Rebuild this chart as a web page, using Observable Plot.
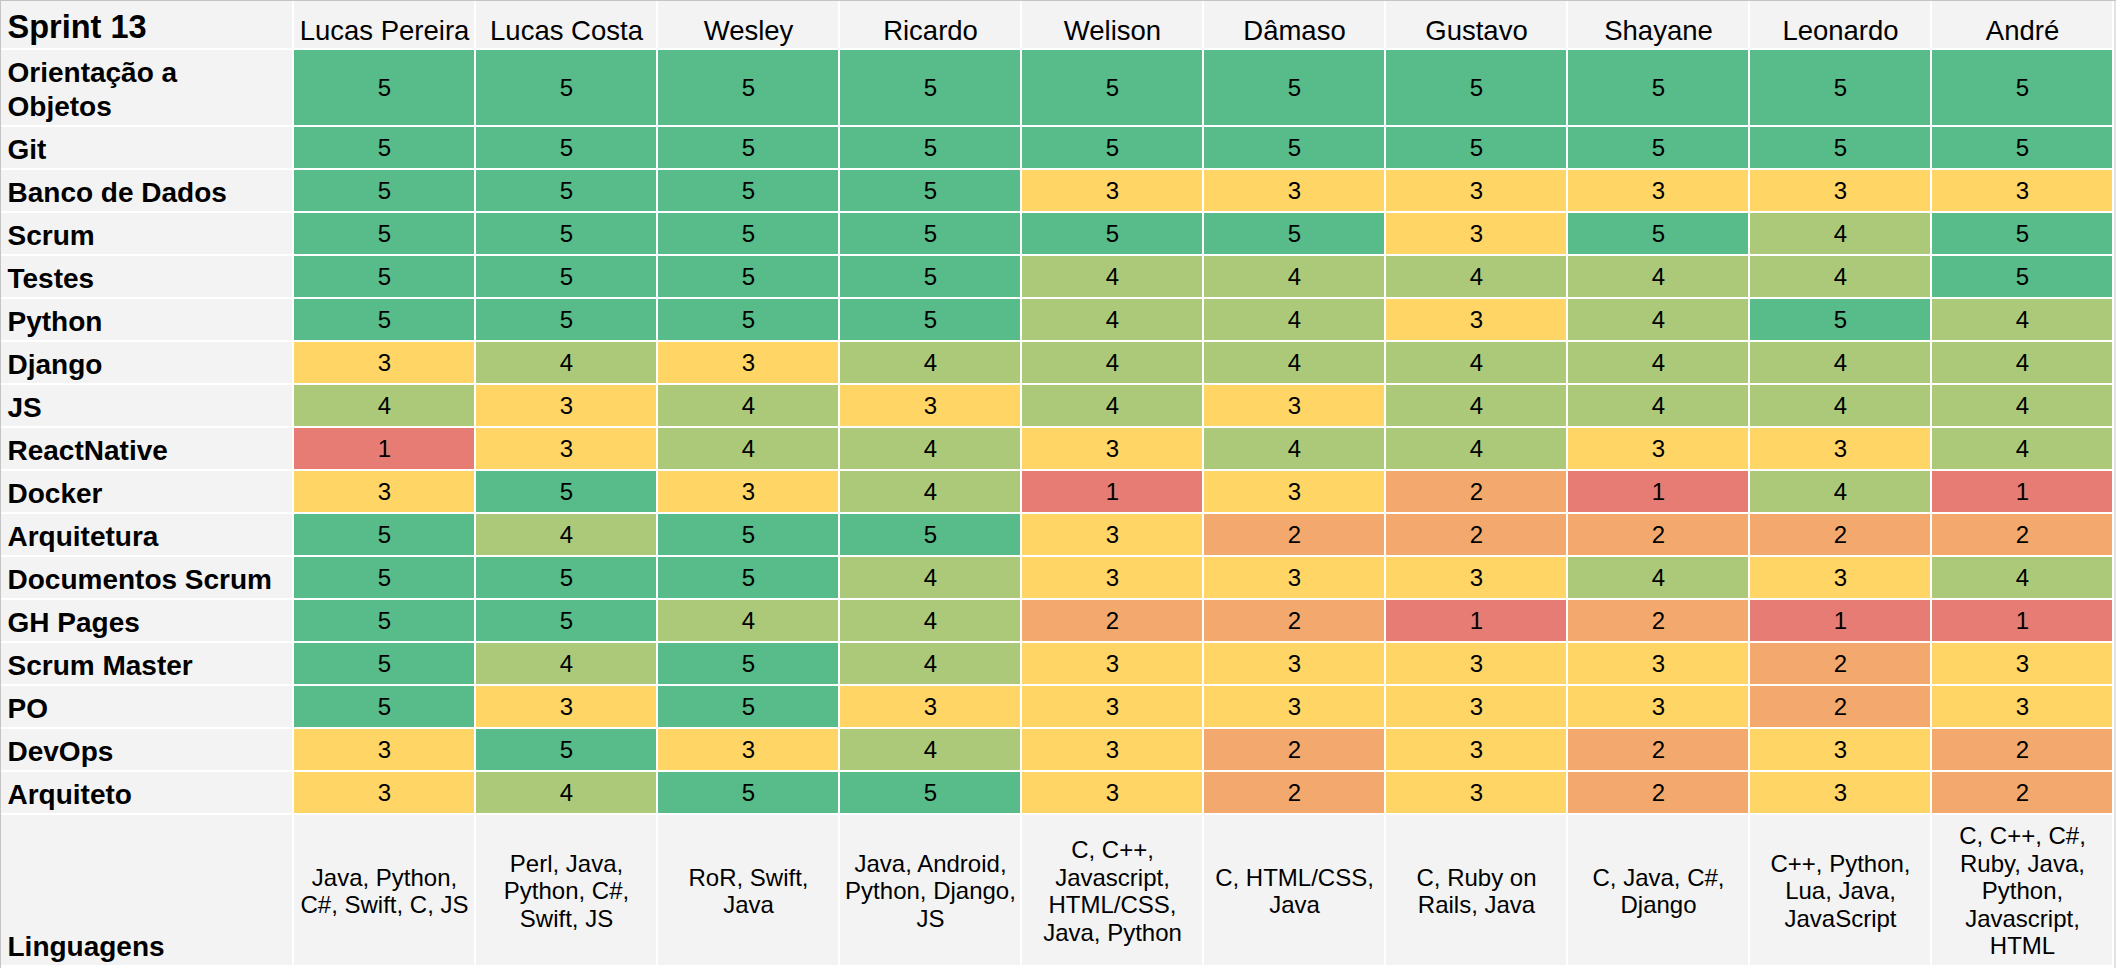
<!DOCTYPE html>
<html>
<head>
<meta charset="utf-8">
<script src="https://cdn.jsdelivr.net/npm/d3@7"></script>
<script src="https://cdn.jsdelivr.net/npm/@observablehq/plot@0.6"></script>
<style>
  html, body { margin: 0; padding: 0; background: #ffffff; }
  #chart svg { display: block; }
</style>
</head>
<body>
<div id="chart"></div>
<script>
// ---------------- data ----------------
const title = "Sprint 13";
const people = ["Lucas Pereira", "Lucas Costa", "Wesley", "Ricardo", "Welison", "Dâmaso", "Gustavo", "Shayane", "Leonardo", "André"];
const skills = ["Orientação a Objetos", "Git", "Banco de Dados", "Scrum", "Testes", "Python", "Django", "JS", "ReactNative", "Docker", "Arquitetura", "Documentos Scrum", "GH Pages", "Scrum Master", "PO", "DevOps", "Arquiteto"];
const scores = [
  [5, 5, 5, 5, 5, 5, 5, 5, 5, 5],
  [5, 5, 5, 5, 5, 5, 5, 5, 5, 5],
  [5, 5, 5, 5, 3, 3, 3, 3, 3, 3],
  [5, 5, 5, 5, 5, 5, 3, 5, 4, 5],
  [5, 5, 5, 5, 4, 4, 4, 4, 4, 5],
  [5, 5, 5, 5, 4, 4, 3, 4, 5, 4],
  [3, 4, 3, 4, 4, 4, 4, 4, 4, 4],
  [4, 3, 4, 3, 4, 3, 4, 4, 4, 4],
  [1, 3, 4, 4, 3, 4, 4, 3, 3, 4],
  [3, 5, 3, 4, 1, 3, 2, 1, 4, 1],
  [5, 4, 5, 5, 3, 2, 2, 2, 2, 2],
  [5, 5, 5, 4, 3, 3, 3, 4, 3, 4],
  [5, 5, 4, 4, 2, 2, 1, 2, 1, 1],
  [5, 4, 5, 4, 3, 3, 3, 3, 2, 3],
  [5, 3, 5, 3, 3, 3, 3, 3, 2, 3],
  [3, 5, 3, 4, 3, 2, 3, 2, 3, 2],
  [3, 4, 5, 5, 3, 2, 3, 2, 3, 2]
];
const languagesLabel = "Linguagens";
const languages = [
  "Java, Python, C#, Swift, C, JS",
  "Perl, Java, Python, C#, Swift, JS",
  "RoR, Swift, Java",
  "Java, Android, Python, Django, JS",
  "C, C++, Javascript, HTML/CSS, Java, Python",
  "C, HTML/CSS, Java",
  "C, Ruby on Rails, Java",
  "C, Java, C#, Django",
  "C++, Python, Lua, Java, JavaScript",
  "C, C++, C#, Ruby, Java, Python, Javascript, HTML"
];
const scoreDomain = [1, 3, 5];
const scoreColors = ["#e67c73", "#ffd666", "#57bb8a"];

// ---------------- layout / style ----------------
const W = 2116, H = 968;
const FONT = "'Liberation Sans', Arial, Helvetica, sans-serif";
const L = {border: 1, gap: 2, labelW: 291, colW: 180, headerH: 47, rowH: 41, extraLineH: 34, langH: 150, pad: 6};
const SZ = {title: 32.5, name: 27.5, label: 28, score: 24, lang: 24};
const cellBg = "#f3f3f3";

const ctx = document.createElement("canvas").getContext("2d");
function wrap(text, font, maxW) {
  ctx.font = font;
  const words = text.split(" ");
  const lines = [];
  let cur = "";
  for (const w of words) {
    const t = cur ? cur + " " + w : w;
    if (cur && ctx.measureText(t).width > maxW) { lines.push(cur); cur = w; }
    else cur = t;
  }
  if (cur) lines.push(cur);
  return lines;
}
const labelFont = `bold ${SZ.label}px 'Liberation Sans'`;
const langFont = `${SZ.lang}px 'Liberation Sans'`;
const labelMaxW = 274, langMaxW = 173;

// columns
const labelCol = {x1: L.border, x2: L.border + L.labelW};
const cols = people.map((p, j) => {
  const x1 = labelCol.x2 + L.gap + j * (L.colW + L.gap);
  return {person: p, x1, x2: x1 + L.colW, cx: x1 + L.colW / 2};
});

// rows
const header = {y1: L.border, y2: L.border + L.headerH};
let cursor = header.y2 + L.gap;
const rows = skills.map((s, i) => {
  const lines = wrap(s, labelFont, labelMaxW);
  const h = L.rowH + (lines.length - 1) * L.extraLineH;
  const r = {skill: s, i, lines, y1: cursor, y2: cursor + h};
  cursor = r.y2 + L.gap;
  return r;
});
const langRow = {skill: languagesLabel, lines: [languagesLabel], y1: cursor, y2: cursor + L.langH};

// tables for marks
const bgCells = [
  {...labelCol, ...header},
  ...cols.map(c => ({x1: c.x1, x2: c.x2, ...header})),
  ...rows.map(r => ({...labelCol, y1: r.y1, y2: r.y2})),
  {...labelCol, y1: langRow.y1, y2: langRow.y2},
  ...cols.map(c => ({x1: c.x1, x2: c.x2, y1: langRow.y1, y2: langRow.y2}))
];
const scoreCells = rows.flatMap(r => cols.map((c, j) => ({
  skill: r.skill, person: c.person, score: scores[r.i][j],
  x1: c.x1, x2: c.x2, y1: r.y1, y2: r.y2, cx: c.cx, cy: (r.y1 + r.y2) / 2
})));
const titleText = [{x: L.border + L.pad, y: header.y2 - 11, text: title}];
const nameTexts = cols.map(c => ({x: c.cx, y: header.y2 - 9, text: c.person}));
const labelTexts = [...rows, langRow].map(r => ({x: L.border + L.pad, y: r.y2 - 10, text: r.lines.join("\n")}));
const langTexts = cols.map((c, j) => ({x: c.cx, y: (langRow.y1 + langRow.y2) / 2, text: wrap(languages[j], langFont, langMaxW).join("\n")}));
const frameDeco = [
  {x1: 0, x2: W, y1: 0, y2: L.border, fill: "#c4c4c4"},
  {x1: 0, x2: L.border, y1: 0, y2: H, fill: "#c4c4c4"},
  {x1: cols[cols.length - 1].x2 + L.gap, x2: W, y1: L.border, y2: H, fill: "#e2e2e2"}
];

const chart = Plot.plot({
  width: W,
  height: H,
  margin: 0,
  style: {background: "#ffffff", fontFamily: FONT, overflow: "visible"},
  x: {type: "linear", domain: [0, W], range: [0, W], axis: null},
  y: {type: "linear", domain: [0, H], range: [0, H], axis: null},
  color: {type: "linear", domain: scoreDomain, range: scoreColors, interpolate: "rgb"},
  marks: [
    Plot.rect(frameDeco, {x1: "x1", x2: "x2", y1: "y1", y2: "y2", fill: d => d.fill}),
    Plot.rect(bgCells, {x1: "x1", x2: "x2", y1: "y1", y2: "y2", fill: cellBg}),
    Plot.rect(scoreCells, {x1: "x1", x2: "x2", y1: "y1", y2: "y2", fill: "score"}),
    Plot.text(titleText, {x: "x", y: "y", text: "text", textAnchor: "start", lineAnchor: "bottom", fontSize: SZ.title, fontWeight: "bold", fill: "#000"}),
    Plot.text(nameTexts, {x: "x", y: "y", text: "text", textAnchor: "middle", lineAnchor: "bottom", fontSize: SZ.name, fill: "#000"}),
    Plot.text(labelTexts, {x: "x", y: "y", text: "text", textAnchor: "start", lineAnchor: "bottom", lineHeight: 1.21, fontSize: SZ.label, fontWeight: "bold", fill: "#000"}),
    Plot.text(scoreCells, {x: "cx", y: "cy", text: d => String(d.score), textAnchor: "middle", lineAnchor: "middle", fontSize: SZ.score, fill: "#000"}),
    Plot.text(langTexts, {x: "x", y: "y", text: "text", textAnchor: "middle", lineAnchor: "middle", lineHeight: 1.146, fontSize: SZ.lang, fill: "#000"})
  ]
});
document.getElementById("chart").appendChild(chart);
</script>
</body>
</html>
